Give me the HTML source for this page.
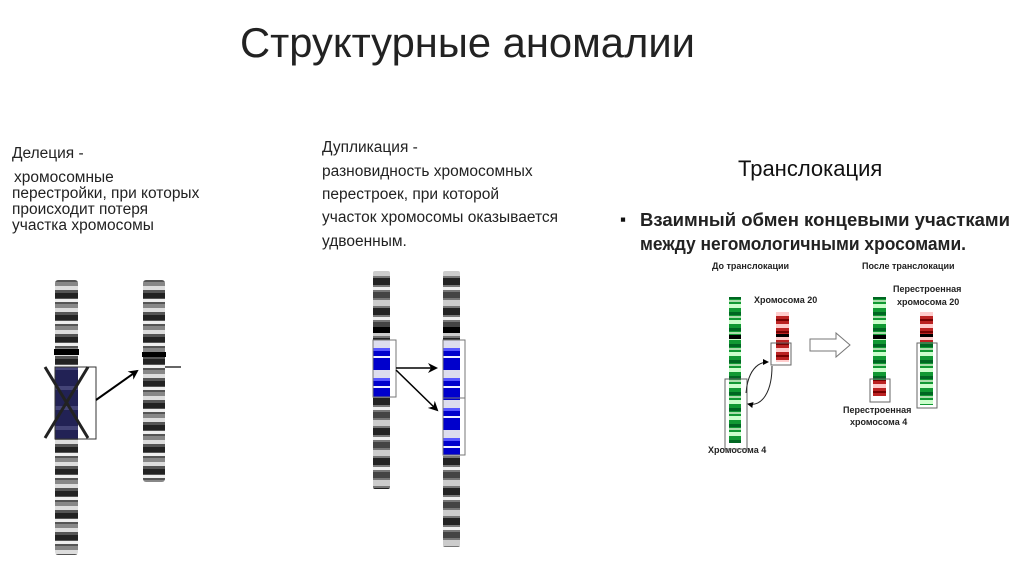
<!DOCTYPE html>
<html><head><meta charset="utf-8"><style>
html,body{margin:0;padding:0;background:#fff;}
svg{display:block;font-family:"Liberation Sans","DejaVu Sans",sans-serif;}
</style></head><body>
<svg width="1024" height="574" viewBox="0 0 1024 574" xmlns="http://www.w3.org/2000/svg">
<defs>
<pattern id="gray" width="20" height="22" patternUnits="userSpaceOnUse">
<rect width="20" height="22" fill="#555"/>
<rect y="0" width="20" height="4" fill="#ddd"/>
<rect y="7" width="20" height="5" fill="#222"/>
<rect y="13" width="20" height="3" fill="#eee"/>
<rect y="18" width="20" height="4" fill="#888"/>
</pattern>
<pattern id="gray2" width="20" height="30" patternUnits="userSpaceOnUse">
<rect width="20" height="30" fill="#777"/>
<rect y="0" width="20" height="6" fill="#ccc"/>
<rect y="8" width="20" height="7" fill="#222"/>
<rect y="17" width="20" height="3" fill="#eee"/>
<rect y="22" width="20" height="6" fill="#444"/>
</pattern>
<pattern id="blue" width="20" height="30" patternUnits="userSpaceOnUse">
<rect width="20" height="30" fill="#00c"/>
<rect y="10" width="20" height="8" fill="#dde"/>
<rect y="18" width="20" height="3" fill="#55f"/>
<rect y="26" width="20" height="2" fill="#eef"/>
</pattern>
<pattern id="dblue" width="20" height="20" patternUnits="userSpaceOnUse">
<rect width="20" height="20" fill="#225"/>
<rect y="6" width="20" height="4" fill="#447"/>
</pattern>
<pattern id="green" width="14" height="16" patternUnits="userSpaceOnUse">
<rect width="14" height="16" fill="#193"/>
<rect y="0" width="14" height="4" fill="#cfc"/>
<rect y="8" width="14" height="3" fill="#062"/>
<rect y="12" width="14" height="2" fill="#ada"/>
</pattern>
<pattern id="red" width="14" height="12" patternUnits="userSpaceOnUse">
<rect width="14" height="12" fill="#b22"/>
<rect y="0" width="14" height="4" fill="#fcc"/>
<rect y="7" width="14" height="2" fill="#700"/>
</pattern>
<marker id="ah" markerWidth="10" markerHeight="10" refX="8" refY="5" orient="auto" markerUnits="userSpaceOnUse"><path d="M0,0 L10,5 L0,10 L3,5z" fill="#000"/></marker>
<marker id="ah2" markerWidth="6" markerHeight="6" refX="5" refY="3" orient="auto" markerUnits="userSpaceOnUse"><path d="M0,0 L6,3 L0,6z" fill="#000"/></marker>
</defs>

<text x="240" y="57" font-size="42" fill="#222" textLength="455" lengthAdjust="spacingAndGlyphs">Структурные аномалии</text>

<g font-size="15.5" fill="#222">
<text x="12" y="158">Делеция -</text>
<text x="14" y="182">хромосомные</text>
<text x="12" y="198">перестройки, при которых</text>
<text x="12" y="214">происходит потеря</text>
<text x="12" y="230">участка хромосомы</text>
<text x="322" y="152">Дупликация -</text>
<text x="322" y="176">разновидность хромосомных</text>
<text x="322" y="199">перестроек, при которой</text>
<text x="322" y="222">участок хромосомы оказывается</text>
<text x="322" y="246">удвоенным.</text>
</g>
<text x="738" y="176" font-size="22" fill="#111">Транслокация</text>
<text x="620" y="225" font-size="17" fill="#111">▪</text>
<text x="640" y="226" font-size="18" font-weight="bold" fill="#222" textLength="370" lengthAdjust="spacingAndGlyphs">Взаимный обмен концевыми участками</text>
<text x="640" y="250" font-size="18" font-weight="bold" fill="#222" textLength="326" lengthAdjust="spacingAndGlyphs">между негомологичными хросомами.</text>

<!-- Deletion -->
<rect x="55" y="280" width="23" height="275" rx="3" fill="url(#gray)"/>
<rect x="54" y="349" width="25" height="6" fill="#000"/>
<rect x="55" y="367" width="23" height="72" fill="url(#dblue)"/>
<rect x="55" y="367" width="41" height="72" fill="none" stroke="#333" stroke-width="1"/>
<line x1="45" y1="367" x2="88" y2="438" stroke="#222" stroke-width="3"/>
<line x1="88" y1="367" x2="45" y2="438" stroke="#222" stroke-width="3"/>
<line x1="96" y1="400" x2="137" y2="371" stroke="#000" stroke-width="2" marker-end="url(#ah)"/>
<rect x="143" y="280" width="22" height="202" rx="3" fill="url(#gray)"/>
<rect x="142" y="352" width="24" height="5" fill="#000"/>
<line x1="165" y1="367" x2="181" y2="367" stroke="#000" stroke-width="1.2"/>

<!-- Duplication -->
<rect x="373" y="271" width="17" height="218" rx="2" fill="url(#gray2)"/>
<rect x="373" y="327" width="17" height="6" fill="#000"/>
<rect x="373" y="340" width="17" height="57" fill="url(#blue)"/>
<rect x="373" y="340" width="23" height="57" fill="none" stroke="#777"/>
<line x1="396" y1="368" x2="436" y2="368" stroke="#000" stroke-width="1.5" marker-end="url(#ah)"/>
<line x1="396" y1="370" x2="437" y2="410" stroke="#000" stroke-width="1.5" marker-end="url(#ah)"/>
<rect x="443" y="271" width="17" height="276" rx="2" fill="url(#gray2)"/>
<rect x="443" y="327" width="17" height="6" fill="#000"/>
<rect x="443" y="340" width="17" height="115" fill="url(#blue)"/>
<rect x="443" y="340" width="22" height="58" fill="none" stroke="#777"/>
<rect x="443" y="398" width="22" height="57" fill="none" stroke="#777"/>

<!-- Translocation -->
<g font-size="9" font-weight="bold" fill="#222">
<text x="712" y="269">До транслокации</text>
<text x="862" y="269">После транслокации</text>
<text x="754" y="303">Хромосома 20</text>
<text x="893" y="292">Перестроенная</text>
<text x="897" y="305">хромосома 20</text>
<text x="843" y="413">Перестроенная</text>
<text x="850" y="425">хромосома 4</text>
<text x="708" y="453">Хромосома 4</text>
</g>
<rect x="729" y="297" width="12" height="146" fill="url(#green)"/>
<rect x="729" y="335" width="12" height="4" fill="#000"/>
<rect x="725" y="379" width="22" height="70" fill="none" stroke="#666"/>
<rect x="776" y="312" width="13" height="50" fill="url(#red)"/>
<rect x="776" y="334" width="13" height="3" fill="#000"/>
<rect x="771" y="343" width="20" height="22" fill="none" stroke="#666"/>
<path d="M746,393 C748,370 758,362 768,362" fill="none" stroke="#222" stroke-width="1" marker-end="url(#ah2)"/>
<path d="M772,366 C772,392 762,407 748,404" fill="none" stroke="#222" stroke-width="1" marker-end="url(#ah2)"/>
<path d="M810,339 L836,339 L836,333 L850,345 L836,357 L836,351 L810,351z" fill="#fff" stroke="#777"/>
<rect x="873" y="297" width="13" height="98" fill="url(#green)"/>
<rect x="873" y="335" width="13" height="4" fill="#000"/>
<rect x="873" y="380" width="13" height="16" fill="url(#red)"/>
<rect x="870" y="379" width="20" height="23" fill="none" stroke="#666"/>
<rect x="920" y="312" width="13" height="30" fill="url(#red)"/>
<rect x="920" y="334" width="13" height="3" fill="#000"/>
<rect x="920" y="342" width="13" height="63" fill="url(#green)"/>
<rect x="917" y="343" width="20" height="65" fill="none" stroke="#666"/>
</svg>
</body></html>
